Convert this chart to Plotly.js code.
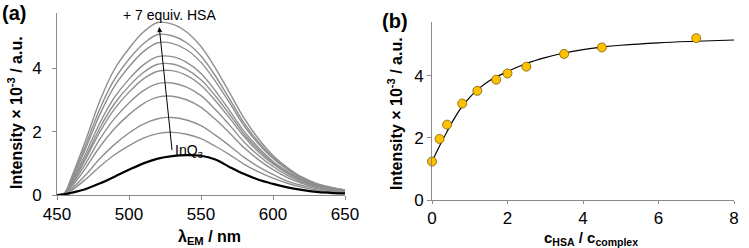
<!DOCTYPE html>
<html>
<head>
<meta charset="utf-8">
<script src="https://cdn.plot.ly/plotly-3.0.1.min.js"></script>
<style>html,body{margin:0;padding:0;background:#fff;}#chart{width:749px;height:248px;}</style>
</head>
<body>
<div id="chart"></div>
<script>
// ---------- Panel (a): emission spectra ----------
const wavelengths = [450,455,460,470,480,490,500,510,520,530,540,550,560,570,580,590,600,610,620,630,640,650];
const spec7equiv = [0,0.05,0.55,1.74,3.00,3.98,4.63,5.15,5.45,5.40,5.15,4.69,4.01,3.22,2.42,1.77,1.25,0.87,0.57,0.37,0.25,0.16];
const specG2 = [0,0.05,0.49,1.59,2.75,3.66,4.29,4.78,5.07,5.03,4.81,4.39,3.76,3.02,2.27,1.67,1.19,0.83,0.54,0.35,0.23,0.16];
const specG3 = [0,0.05,0.45,1.48,2.57,3.44,4.05,4.53,4.81,4.79,4.59,4.19,3.59,2.90,2.18,1.61,1.15,0.80,0.53,0.34,0.23,0.15];
const specG4 = [0,0.04,0.40,1.32,2.30,3.09,3.66,4.11,4.37,4.37,4.19,3.84,3.29,2.66,2.01,1.49,1.06,0.74,0.49,0.32,0.21,0.14];
const specG5 = [0,0.04,0.37,1.21,2.14,2.89,3.44,3.87,4.13,4.14,3.97,3.64,3.13,2.54,1.92,1.43,1.02,0.71,0.47,0.31,0.20,0.14];
const specG6 = [0,0.04,0.34,1.14,2.01,2.72,3.25,3.67,3.91,3.93,3.78,3.47,2.98,2.42,1.84,1.36,0.98,0.68,0.45,0.30,0.20,0.13];
const specG7 = [0,0.04,0.30,1.00,1.78,2.42,2.91,3.30,3.52,3.54,3.41,3.14,2.70,2.20,1.67,1.25,0.90,0.62,0.41,0.27,0.18,0.12];
const specG8 = [0,0.03,0.25,0.86,1.54,2.10,2.54,2.89,3.09,3.12,3.01,2.77,2.39,1.95,1.49,1.11,0.80,0.55,0.37,0.24,0.16,0.11];
const specG9 = [0,0.02,0.18,0.64,1.16,1.60,1.96,2.24,2.41,2.45,2.37,2.19,1.89,1.55,1.19,0.89,0.65,0.44,0.30,0.20,0.13,0.09];
const specG10 = [0,0.02,0.14,0.50,0.91,1.27,1.56,1.80,1.94,1.98,1.92,1.78,1.54,1.27,0.97,0.73,0.53,0.37,0.25,0.16,0.11,0.07];
const specInQ3 = [0,0.02,0.07,0.19,0.37,0.58,0.80,1.00,1.15,1.23,1.26,1.24,1.12,0.88,0.66,0.48,0.35,0.24,0.16,0.10,0.07,0.05];
const graySpectra = [spec7equiv,specG2,specG3,specG4,specG5,specG6,specG7,specG8,specG9,specG10];

// ---------- Panel (b): titration ----------
const ratioPts = [0,0.2,0.4,0.8,1.2,1.7,2,2.5,3.5,4.5,7];
const intensityPts = [1.24,1.97,2.43,3.11,3.52,3.88,4.08,4.30,4.71,4.92,5.22];
const fitX = [0,0.2,0.4,0.6,0.8,1.0,1.2,1.5,2,2.5,3,3.5,4,4.5,5,6,7,8];
const fitY = [1.24,1.74,2.21,2.65,3.02,3.31,3.55,3.83,4.14,4.40,4.59,4.74,4.85,4.93,4.99,5.07,5.12,5.16];

const xTicksA = [450,500,550,600,650];
const xTicksB = [0,2,4,6,8];
const yTicks = [0,2,4];

const FONT = 'Liberation Sans, Arial, sans-serif';
const traces = [];
graySpectra.forEach((s,i) => {
  traces.push({x: wavelengths, y: s, type:'scatter', mode:'lines', xaxis:'x', yaxis:'y',
    line:{color:'#8f8f8f', width:1.4, shape:'spline', smoothing:1}, hoverinfo:'skip', showlegend:false});
});
traces.push({x: wavelengths, y: specInQ3, type:'scatter', mode:'lines', xaxis:'x', yaxis:'y',
  line:{color:'#000', width:2.2, shape:'spline', smoothing:1}, showlegend:false});
traces.push({x: fitX, y: fitY, type:'scatter', mode:'lines', xaxis:'x2', yaxis:'y2',
  line:{color:'#000', width:1.2, shape:'spline', smoothing:1}, showlegend:false});
traces.push({x: ratioPts, y: intensityPts, type:'scatter', mode:'markers', xaxis:'x2', yaxis:'y2', cliponaxis:false,
  marker:{color:'#FFC000', size:9, line:{color:'#7a5c00', width:0.8}}, showlegend:false});

const axisCommon = {showline:true, linecolor:'#8a8a8a', linewidth:1, ticks:'outside', ticklen:4, tickcolor:'#8a8a8a',
  showgrid:false, zeroline:false, tickfont:{family:FONT, size:17, color:'#000'}};

const layout = {
  width:749, height:248, margin:{l:0,r:0,t:0,b:0}, paper_bgcolor:'#fff', plot_bgcolor:'#fff',
  xaxis: Object.assign({}, axisCommon, {domain:[57/749, 345/749], range:[450,650], tickvals:xTicksA, anchor:'y'}),
  yaxis: Object.assign({}, axisCommon, {domain:[53/248, 235/248], range:[0,5.75], tickvals:yTicks, anchor:'x', ticklabelstandoff:7}),
  xaxis2: Object.assign({}, axisCommon, {domain:[432/749, 734/749], range:[0,8], tickvals:xTicksB, anchor:'y2', ticklen:3}),
  yaxis2: Object.assign({}, axisCommon, {domain:[48/248, 226.3/248], range:[0,5.75], tickvals:yTicks, anchor:'x2'}),
  annotations: [
    {xref:'paper', yref:'paper', x:210/749, y:1-237/248, xanchor:'center', yanchor:'middle', showarrow:false,
     text:'<b>λ<sub>EM</sub> / nm</b>', font:{family:FONT, size:16, color:'#000'}},
    {xref:'paper', yref:'paper', x:591/749, y:1-238/248, xanchor:'center', yanchor:'middle', showarrow:false,
     text:'<b>c<sub>HSA</sub> / c<sub>complex</sub></b>', font:{family:FONT, size:15, color:'#000'}},
    {xref:'paper', yref:'paper', x:15/749, y:1-113/248, xanchor:'center', yanchor:'middle', showarrow:false, textangle:-90,
     text:'<b>Intensity × 10<sup>-3</sup> / a.u.</b>', font:{family:FONT, size:16, color:'#000'}},
    {xref:'paper', yref:'paper', x:395/749, y:1-114/248, xanchor:'center', yanchor:'middle', showarrow:false, textangle:-90,
     text:'<b>Intensity × 10<sup>-3</sup> / a.u.</b>', font:{family:FONT, size:16, color:'#000'}},
    {xref:'paper', yref:'paper', x:0, y:1, xanchor:'left', yanchor:'top', showarrow:false,
     text:'<b>(a)</b>', font:{family:FONT, size:20, color:'#000'}},
    {xref:'paper', yref:'paper', x:380/749, y:1-21/248, xanchor:'left', yanchor:'middle', showarrow:false,
     text:'<b>(b)</b>', font:{family:FONT, size:20, color:'#000'}},
    {xref:'x', yref:'y', x:528, y:5.68, xanchor:'center', yanchor:'middle', showarrow:false,
     text:'+ 7 equiv. HSA', font:{family:FONT, size:14, color:'#000'}},
    {xref:'x', yref:'y', x:530.5, y:1.38, xanchor:'left', yanchor:'middle', showarrow:false,
     text:'InQ<sub>3</sub>', font:{family:FONT, size:14, color:'#000'}},
    {xref:'x', yref:'y', x:521, y:5.31, axref:'x', ayref:'y', ax:530, ay:1.37, text:'', showarrow:true,
     arrowhead:2, arrowsize:1, arrowwidth:1, arrowcolor:'#000', standoff:0, startstandoff:0}
  ]
};
Plotly.newPlot('chart', traces, layout, {staticPlot:true, displayModeBar:false});
</script>
</body>
</html>
